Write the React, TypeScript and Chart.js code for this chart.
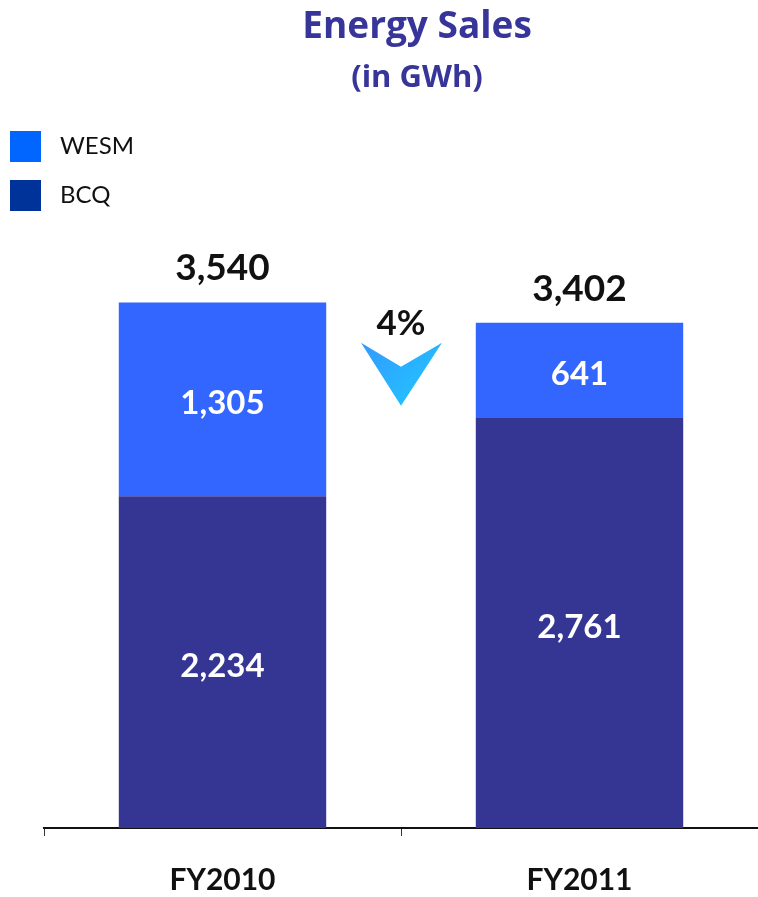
import React, { useEffect, useRef } from "react";
import { Chart, registerables } from "chart.js";

Chart.register(...registerables);

const categories = ["FY2010", "FY2011"];
const bcqValues = [2234, 2761];
const wesmValues = [1305, 641];
const totalValues = [3540, 3402];
const seriesNames = ["WESM", "BCQ"];
const titleText = "Energy Sales";
const subtitleText = "(in GWh)";

const FONT = "Lato, 'Open Sans', sans-serif";
const TFONT = "'Open Sans', Lato, sans-serif";
const fmt = (v: number) => v.toLocaleString("en-US");

const overlayPlugin = {
  id: "overlay",
  afterDatasetsDraw(chart: any) {
    const ctx = chart.ctx as CanvasRenderingContext2D;
    const xs = chart.scales.x;
    const ys = chart.scales.y;
    ctx.save();
    // title
    ctx.fillStyle = "#38359a";
    ctx.textAlign = "center";
    ctx.textBaseline = "middle";
    ctx.font = `bold 37px ${TFONT}`;
    ctx.fillText(titleText, 417, 27);
    ctx.font = `bold 31px ${TFONT}`;
    ctx.fillText(subtitleText, 417, 78);

    // legend
    const legendColors = ["#0066ff", "#003399"];
    seriesNames.forEach((name, i) => {
      const top = 131 + i * 49;
      ctx.fillStyle = legendColors[i];
      ctx.fillRect(10, top, 31, 31);
      ctx.fillStyle = "#111";
      ctx.textAlign = "left";
      ctx.textBaseline = "middle";
      ctx.font = `24px ${FONT}`;
      ctx.fillText(name, 60, top + 15);
    });

    // inner labels
    ctx.fillStyle = "#ffffff";
    ctx.textAlign = "center";
    ctx.font = `bold 33px ${FONT}`;
    chart.data.datasets.forEach((ds: any, di: number) => {
      const meta = chart.getDatasetMeta(di);
      meta.data.forEach((bar: any, i: number) => {
        const v = ds.data[i];
        ctx.fillText(fmt(v), bar.x, (bar.y + bar.base) / 2 + 4);
      });
    });

    // totals
    ctx.fillStyle = "#111";
    ctx.font = `bold 37px ${FONT}`;
    totalValues.forEach((t, i) => {
      const x = xs.getPixelForValue(i);
      const y = ys.getPixelForValue(t);
      ctx.fillText(fmt(t), x, y - 34);
    });

    // change indicator
    const cx = (xs.getPixelForValue(0) + xs.getPixelForValue(1)) / 2;
    const base = ys.getPixelForValue(totalValues[1]);
    const pct = Math.round((1 - totalValues[1] / totalValues[0]) * 100);
    ctx.font = `bold 35px ${FONT}`;
    ctx.fillText(`${pct}%`, cx, base + 1);
    const top = base + 20;
    const grad = ctx.createLinearGradient(cx - 40, top, cx + 20, top + 63);
    grad.addColorStop(0, "#3399ff");
    grad.addColorStop(1, "#22c4ff");
    ctx.fillStyle = grad;
    ctx.beginPath();
    ctx.moveTo(cx - 40, top);
    ctx.lineTo(cx, top + 24);
    ctx.lineTo(cx + 41, top);
    ctx.lineTo(cx, top + 63);
    ctx.closePath();
    ctx.fill();
    ctx.restore();
  },
};

export default function App() {
  const ref = useRef<HTMLCanvasElement | null>(null);
  useEffect(() => {
    if (!ref.current) return;
    const chart = new Chart(ref.current, {
      type: "bar",
      data: {
        labels: categories,
        datasets: [
          {
            label: "BCQ",
            data: bcqValues,
            backgroundColor: "#353594",
            categoryPercentage: 1,
            barPercentage: 0.581,
          },
          {
            label: "WESM",
            data: wesmValues,
            backgroundColor: "#3366ff",
            categoryPercentage: 1,
            barPercentage: 0.581,
          },
        ],
      },
      options: {
        responsive: false,
        animation: false,
        layout: { padding: { left: 44, right: 0, top: 234, bottom: 0 } },
        plugins: {
          legend: { display: false },
          tooltip: { enabled: false },
          title: { display: false },
        },
        scales: {
          x: {
            stacked: true,
            afterFit: (scale: any) => {
              scale.height = 69;
            },
            grid: {
              offset: true,
              drawOnChartArea: false,
              drawTicks: true,
              tickLength: 8,
              color: "#333",
              lineWidth: 1,
            },
            border: { display: true, color: "#111", width: 2 },
            ticks: {
              color: "#111",
              font: { family: FONT, size: 30, weight: "bold" },
              padding: 26,
            },
          },
          y: {
            stacked: true,
            display: false,
            min: 0,
            max: 4000,
          },
        },
      },
      plugins: [overlayPlugin],
    });
    return () => chart.destroy();
  }, []);
  return (
    <div style={{ position: "absolute", left: 0, top: 0, width: 758, height: 897 }}>
      <canvas ref={ref} width={758} height={897} style={{ display: "block" }} />
    </div>
  );
}
